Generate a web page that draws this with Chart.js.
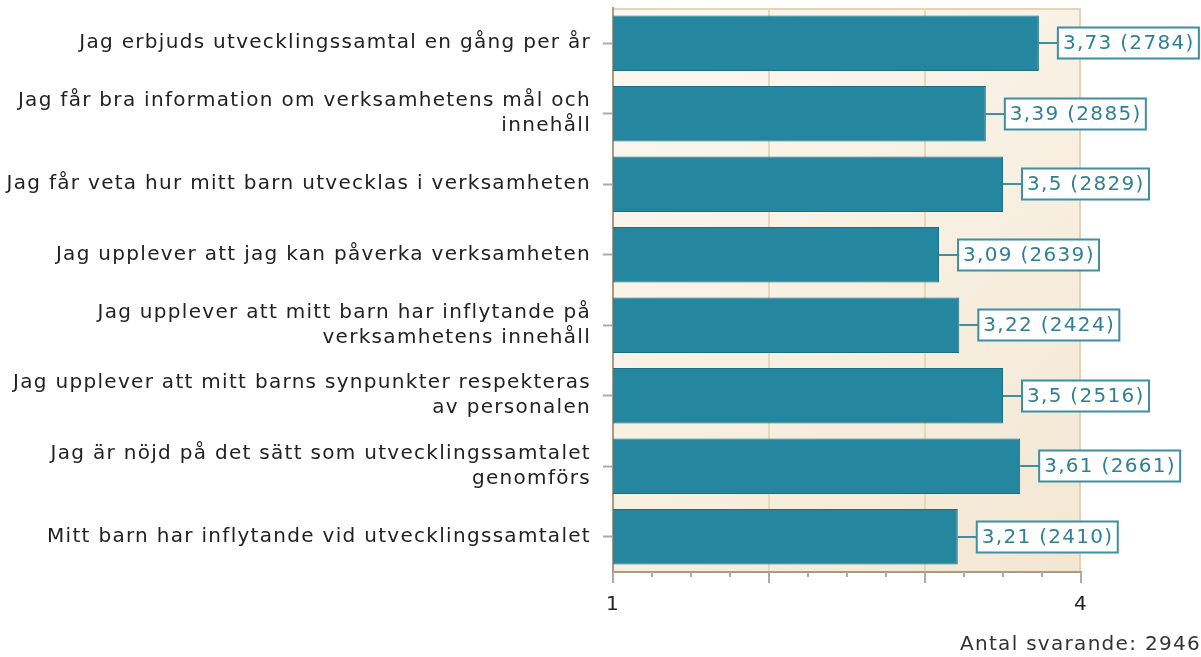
<!DOCTYPE html>
<html>
<head>
<meta charset="utf-8">
<script src="https://cdn.jsdelivr.net/npm/chart.js@4.4.0/dist/chart.umd.min.js"></script>
<style>
  html, body { margin: 0; padding: 0; background: #ffffff; }
  #wrap { width: 1201px; height: 657px; position: relative; }
</style>
</head>
<body>
<div id="wrap"><canvas id="c" width="1201" height="657"></canvas></div>
<script>
const categories = [
  ["Jag erbjuds utvecklingssamtal en gång per år"],
  ["Jag får bra information om verksamhetens mål och", "innehåll"],
  ["Jag får veta hur mitt barn utvecklas i verksamheten"],
  ["Jag upplever att jag kan påverka verksamheten"],
  ["Jag upplever att mitt barn har inflytande på", "verksamhetens innehåll"],
  ["Jag upplever att mitt barns synpunkter respekteras", "av personalen"],
  ["Jag är nöjd på det sätt som utvecklingssamtalet", "genomförs"],
  ["Mitt barn har inflytande vid utvecklingssamtalet"]
];
const meanValues = [3.73, 3.39, 3.5, 3.09, 3.22, 3.5, 3.61, 3.21];
const respondentCounts = [2784, 2885, 2829, 2639, 2424, 2516, 2661, 2410];
const xTickLabels = { 1: "1", 4: "4" };
const footerText = "Antal svarande: 2946";

const FONT = "'DejaVu Sans', Verdana, sans-serif";
const FSIZE = 20;
const LSPACE = '1.3px';

const spacing = {
  id: 'spacing',
  beforeUpdate(chart) { chart.ctx.letterSpacing = LSPACE; },
  beforeLayout(chart) { chart.ctx.letterSpacing = LSPACE; },
  beforeDraw(chart) { chart.ctx.letterSpacing = LSPACE; }
};

const plotBackground = {
  id: 'plotBackground',
  beforeDraw(chart) {
    const { ctx, chartArea: a } = chart;
    ctx.save();
    const g = ctx.createLinearGradient(a.left, a.top, a.right, a.bottom);
    g.addColorStop(0, '#fcf8f1');
    g.addColorStop(1, '#f3e7d2');
    ctx.fillStyle = g;
    ctx.fillRect(a.left, a.top, a.right - a.left, a.bottom - a.top);
    ctx.strokeStyle = '#e3d4b6';
    ctx.lineWidth = 2;
    ctx.beginPath();
    ctx.moveTo(a.left, a.top + 1);
    ctx.lineTo(a.right - 1, a.top + 1);
    ctx.lineTo(a.right - 1, a.bottom);
    ctx.stroke();
    ctx.restore();
  }
};

const xTickMarks = {
  id: 'xTickMarks',
  afterDraw(chart) {
    const { ctx } = chart;
    const s = chart.scales.x;
    ctx.save();
    ctx.strokeStyle = '#ababab';
    ctx.lineWidth = 2;
    s.ticks.forEach(t => {
      const px = Math.round(s.getPixelForValue(t.value));
      const major = Math.abs(t.value - Math.round(t.value)) < 1e-6;
      const len = major ? 11 : 5;
      ctx.beginPath();
      ctx.moveTo(px, s.top);
      ctx.lineTo(px, s.top + len);
      ctx.stroke();
    });
    ctx.restore();
  }
};

const valueBoxes = {
  id: 'valueBoxes',
  afterDatasetsDraw(chart) {
    const { ctx } = chart;
    const meta = chart.getDatasetMeta(0);
    ctx.save();
    ctx.letterSpacing = LSPACE;
    ctx.font = FSIZE + "px " + FONT;
    ctx.textBaseline = 'middle';
    meta.data.forEach((bar, i) => {
      const v = meanValues[i];
      const text = String(v).replace('.', ',') + " (" + respondentCounts[i] + ")";
      const x0 = bar.x;
      const y = Math.round(bar.y);
      const gap = 19;
      const w = Math.round(ctx.measureText(text).width + 9);
      const h = 31;
      ctx.strokeStyle = '#3f8ea2';
      ctx.lineWidth = 2;
      ctx.beginPath();
      ctx.moveTo(x0, y);
      ctx.lineTo(x0 + gap, y);
      ctx.stroke();
      ctx.fillStyle = '#ffffff';
      ctx.fillRect(x0 + gap, y - h / 2, w, h);
      ctx.strokeRect(x0 + gap, y - h / 2, w, h);
      ctx.fillStyle = '#2f8095';
      ctx.textAlign = 'left';
      ctx.fillText(text, x0 + gap + 5, y + 1);
    });
    ctx.restore();
  }
};

new Chart(document.getElementById('c'), {
  type: 'bar',
  data: {
    labels: categories,
    datasets: [{
      data: meanValues,
      backgroundColor: '#25869f',
      borderColor: '#1c6e83',
      borderWidth: 1,
      borderSkipped: false,
      barPercentage: 0.79,
      categoryPercentage: 1.0
    }]
  },
  options: {
    indexAxis: 'y',
    responsive: false,
    animation: false,
    layout: { padding: { left: 0, top: 8, right: 0, bottom: 0 } },
    plugins: {
      legend: { display: false },
      tooltip: { enabled: false },
      title: {
        display: true,
        text: footerText,
        position: 'bottom',
        align: 'end',
        color: '#333333',
        font: { family: FONT, size: FSIZE, weight: 'normal', lineHeight: 1.2 },
        padding: { top: 13, bottom: 0 }
      }
    },
    scales: {
      x: {
        type: 'linear',
        min: 1,
        max: 4,
        afterFit(scale) { scale.height = 48; scale.paddingLeft = 0; scale.paddingRight = 0; },
        ticks: {
          stepSize: 0.25,
          autoSkip: false,
          maxRotation: 0,
          padding: 21,
          color: '#222222',
          font: { family: FONT, size: FSIZE },
          callback: (v) => xTickLabels[v] !== undefined ? xTickLabels[v] : ''
        },
        grid: {
          drawTicks: false,
          color: (c) => (c.tick && (c.tick.value === 2 || c.tick.value === 3)) ? '#e6d8bc' : 'rgba(0,0,0,0)',
          lineWidth: 2
        },
        border: { display: true, color: '#a99c84', width: 2 }
      },
      y: {
        afterFit(scale) { scale.width = 613; scale.paddingTop = 0; scale.paddingBottom = 0; },
        ticks: {
          padding: 12,
          color: '#222222',
          font: { family: FONT, size: FSIZE, lineHeight: 1.25 }
        },
        grid: {
          offset: false,
          drawOnChartArea: false,
          drawTicks: true,
          tickLength: 10,
          tickColor: '#ababab',
          tickWidth: 2
        },
        border: { display: true, color: '#a99c84', width: 2 }
      },
      yRightSpace: {
        type: 'linear',
        position: 'right',
        display: true,
        afterFit(scale) { scale.width = 120; scale.paddingTop = 0; scale.paddingBottom = 0; },
        ticks: { display: false },
        grid: { display: false, drawTicks: false },
        border: { display: false }
      }
    }
  },
  plugins: [spacing, plotBackground, xTickMarks, valueBoxes]
});
</script>
</body>
</html>
